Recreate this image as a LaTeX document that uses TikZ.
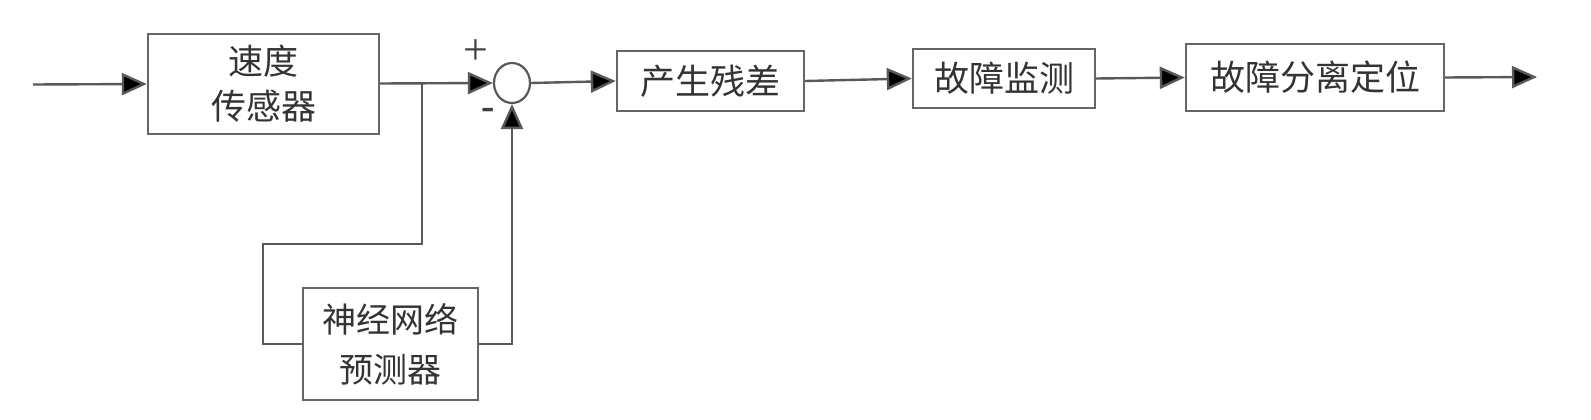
\documentclass[tikz,border=0pt]{standalone}
\usepackage{fontspec}
\newfontfamily\cjk{Noto Sans CJK SC}
\setmainfont{Liberation Serif}
\usetikzlibrary{arrows.meta,shapes.geometric}
\tikzset{
  ln/.style={draw=black!65, line width=2.4pt},
  arr/.style={ln, -{Triangle[length=25pt,width=22pt,fill=black]}},
  blk/.style={draw=black!60, line width=2.4pt, rectangle, inner sep=0pt, align=center,
    font=\cjk\fontsize{35}{45}\selectfont, text=black!80},
  sumnode/.style={draw=black!65, line width=2.2pt, ellipse, inner sep=0pt,
    minimum width=36pt, minimum height=40pt},
  sgn/.style={font=\fontsize{44}{44}\selectfont, text=black!75, inner sep=0pt}
}
\begin{document}
\begin{tikzpicture}[x=1pt,y=-1pt]
\useasboundingbox[fill=white] (0,0) rectangle (1591,420);
\coordinate (in) at (33,84.5);
\node[blk, minimum width=231pt, minimum height=100pt] (s1) at (263.5,84) {速度\\传感器};
\node[sumnode] (sum) at (512,83) {};
\node[blk, minimum width=175pt, minimum height=112pt, font=\cjk\fontsize{34}{50}\selectfont] (nn) at (390.5,344) {神经网络\\预测器};
\node[blk, minimum width=187pt, minimum height=60pt] (b2) at (710.5,81) {产生残差};
\node[blk, minimum width=182pt, minimum height=59pt] (b3) at (1004,78.5) {故障监测};
\node[blk, minimum width=258pt, minimum height=67pt] (b4) at (1315,77.5) {故障分离定位};
\coordinate (out) at (1537,77);
\coordinate (j) at (422,83.5);
\coordinate (c1) at (422,244);
\coordinate (c2) at (263,244);
\node[sgn] (plus) at (476,52) {+};
\node[sgn, font=\fontsize{40}{40}\selectfont\bfseries] (minus) at (488,114) {-};

\draw[arr] (in) -- (s1.west);
\draw[arr] (s1.east |- j) -- (sum.west);
\draw[ln] (j) -- (c1) -- (c2) |- (nn.west);
\draw[arr] (nn.east) -| (sum.south);
\draw[arr] (sum.east) -- (b2.west);
\draw[arr] (b2.east) -- (b3.west);
\draw[arr] (b3.east) -- (b4.west);
\draw[arr] (b4.east) -- (out);
\end{tikzpicture}
\end{document}
